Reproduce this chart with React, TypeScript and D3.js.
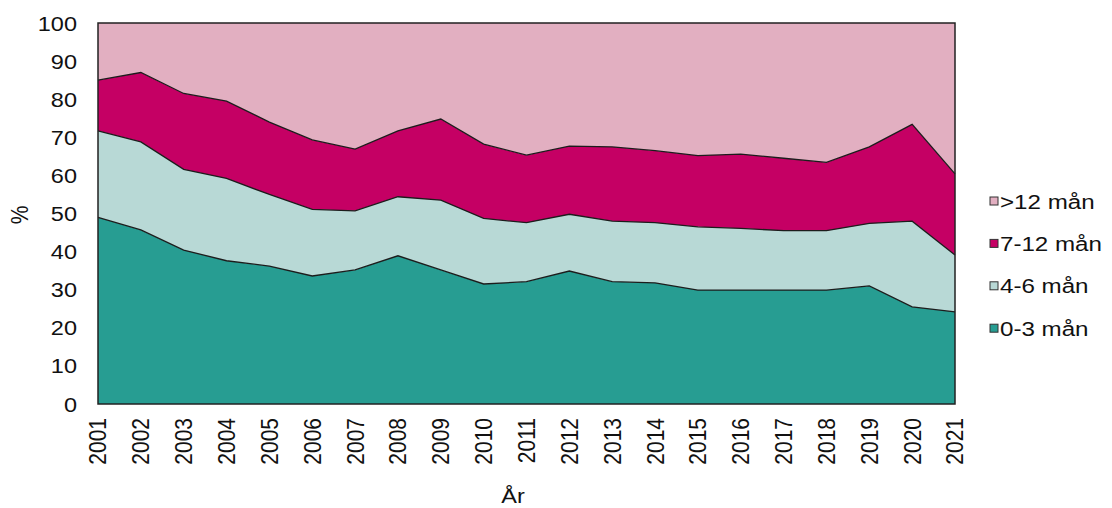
import React from "react";
import * as d3 from "d3";

const years = [2001, 2002, 2003, 2004, 2005, 2006, 2007, 2008, 2009, 2010, 2011, 2012, 2013, 2014, 2015, 2016, 2017, 2018, 2019, 2020, 2021];
const seriesNames = ["0-3 mån", "4-6 mån", "7-12 mån", ">12 mån"];
const m0_3 = [49.0, 45.7, 40.4, 37.6, 36.2, 33.6, 35.2, 38.9, 35.2, 31.5, 32.1, 34.9, 32.1, 31.8, 29.9, 29.9, 29.9, 29.9, 31.0, 25.5, 24.2];
const m4_6 = [22.7, 23.1, 21.2, 21.6, 18.8, 17.5, 15.5, 15.5, 18.3, 17.2, 15.5, 14.9, 15.9, 15.8, 16.6, 16.2, 15.6, 15.6, 16.4, 22.5, 14.9];
const m7_12 = [13.3, 18.2, 19.9, 20.3, 19.0, 18.2, 16.2, 17.3, 21.3, 19.5, 17.7, 17.9, 19.5, 18.9, 18.7, 19.5, 19.0, 17.9, 20.1, 25.4, 21.3];
const m12plus = [15.0, 13.0, 18.5, 20.5, 26.0, 30.7, 33.1, 28.3, 25.2, 31.8, 34.7, 32.3, 32.5, 33.5, 34.8, 34.4, 35.5, 36.6, 32.5, 26.6, 39.6];
const yTicks = [0, 10, 20, 30, 40, 50, 60, 70, 80, 90, 100];
const colors = ["#279d92", "#b8d9d6", "#c50064", "#e2afc1"];

const W = 1112, H = 508;
const L = 98, R = 955, T = 23, B = 404;
const FONT = "'Liberation Sans', Arial, sans-serif";

export default function App() {
  const rows = years.map((y, i) => ({
    year: y,
    [seriesNames[0]]: m0_3[i],
    [seriesNames[1]]: m4_6[i],
    [seriesNames[2]]: m7_12[i],
    [seriesNames[3]]: m12plus[i],
  }));
  const stack = d3.stack<any>().keys(seriesNames)(rows);
  const x = d3.scaleLinear().domain([2001, 2021]).range([L, R]);
  const y = d3.scaleLinear().domain([0, 100]).range([B, T]);
  const area = d3.area<any>().x((d) => x(d.data.year)).y0((d) => y(d[0])).y1((d) => y(Math.min(100, d[1])));
  const line = d3.line<any>().x((d) => x(d.data.year)).y((d) => y(d[1]));

  const legendOrder = [3, 2, 1, 0];
  return (
    <svg width={W} height={H} style={{ position: "absolute", left: 0, top: 0, background: "#fff" }}>
      {stack.map((s, i) => (
        <path key={"a" + i} d={area(s) || ""} fill={colors[i]} stroke="none" />
      ))}
      {stack.slice(0, 3).map((s, i) => (
        <path key={"l" + i} d={line(s) || ""} fill="none" stroke="#1c1c1c" strokeWidth={1.3} />
      ))}
      <rect x={L} y={T} width={R - L} height={B - T} fill="none" stroke="#222" strokeWidth={1.5} />
      {yTicks.map((t) => (
        <g key={"y" + t} transform={`translate(77,${y(t)}) scale(1.12,1)`}>
          <text textAnchor="end" dy="0.36em" fontFamily={FONT} fontSize={21} fill="#111">
            {t}
          </text>
        </g>
      ))}
      {years.map((yr) => (
        <g key={"x" + yr} transform={`translate(${x(yr)},418) scale(1.12,1) rotate(-90)`}>
          <text textAnchor="end" dy="0.36em" fontFamily={FONT} fontSize={21} fill="#111">
            {yr}
          </text>
        </g>
      ))}
      <g transform={`translate(20,215) scale(1.12,1) rotate(-90)`}>
        <text textAnchor="middle" dy="0.36em" fontFamily={FONT} fontSize={21} fill="#111">
          %
        </text>
      </g>
      <g transform={`translate(513,495) scale(1.12,1)`}>
        <text textAnchor="middle" dy="0.36em" fontFamily={FONT} fontSize={21} fill="#111">
          År
        </text>
      </g>
      {legendOrder.map((si, k) => {
        const cy = 201 + k * 42.4;
        return (
          <g key={"lg" + si}>
            <rect x={990} y={cy - 4} width={8} height={8} fill={colors[si]} stroke="#333" strokeWidth={1} />
            <g transform={`translate(1000,${cy}) scale(1.15,1)`}>
              <text dy="0.36em" fontFamily={FONT} fontSize={21} fill="#111">
                {seriesNames[si]}
              </text>
            </g>
          </g>
        );
      })}
    </svg>
  );
}
